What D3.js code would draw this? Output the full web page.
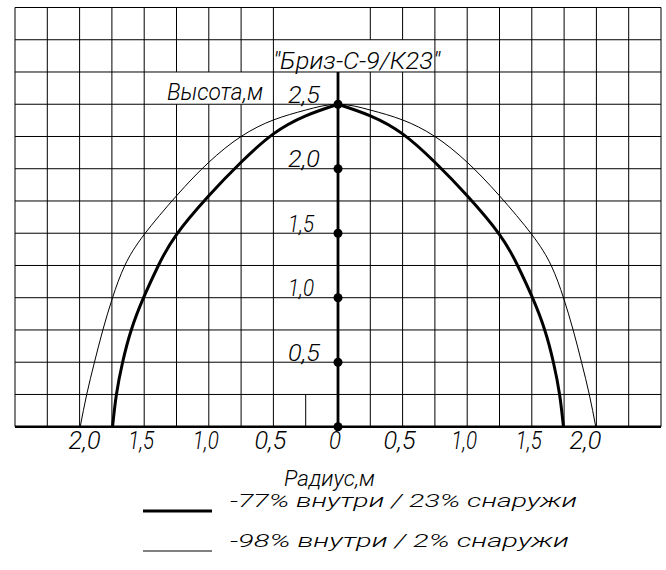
<!DOCTYPE html>
<html><head><meta charset="utf-8">
<script src="https://cdn.jsdelivr.net/npm/d3@7"></script>
<style>
body{margin:0;background:#fff}
svg{display:block;background:#fff}
text{font-family:Roboto,"Liberation Sans Narrow","Liberation Sans",sans-serif;font-style:italic;font-weight:300;fill:#000}
</style>
</head><body><svg id="c" width="666" height="570"></svg>
<script>
// ---- data ----
const title = '"Бриз-С-9/К23"';
const yAxisTitle = "Высота,м";
const xAxisTitle = "Радиус,м";
const yTicks = [0, 0.5, 1.0, 1.5, 2.0, 2.5];
const yTickLabels = ["", "0,5", "1,0", "1,5", "2,0", "2,5"];
const xTicks = [-2.0, -1.5, -1.0, -0.5, 0, 0.5, 1.0, 1.5, 2.0];
const xTickLabels = ["2,0", "1,5", "1,0", "0,5", "0", "0,5", "1,0", "1,5", "2,0"];
const seriesNames = ["-77% внутри / 23% снаружи", "-98% внутри / 2% снаружи"];
// throw profile: radius (m) vs height (m)
const profile77Radius = [0, 0.25, 0.5, 0.75, 1.0, 1.25, 1.39, 1.505, 1.6, 1.667, 1.715, 1.745];
const profile77Height = [2.5, 2.41, 2.27, 2.05, 1.79, 1.49, 1.25, 1.0, 0.75, 0.5, 0.25, 0];
const profile98Radius = [0, 0.25, 0.5, 0.75, 1.0, 1.25, 1.5, 1.65, 1.745, 1.82, 1.885, 1.945, 1.995];
const profile98Height = [2.5, 2.455, 2.378, 2.25, 2.05, 1.79, 1.49, 1.25, 1.0, 0.75, 0.5, 0.25, 0];

// ---- layout ----
const svg = d3.select("#c");
const x = d3.scaleLinear().domain([-2.5, 2.5]).range([15, 661]);
const y = d3.scaleLinear().domain([0, 3.25]).range([426.7, 7.5]);
const step = 0.25;

// grid: vertical lines with gaps where labels sit
const gaps = new Map([
  [-0.25, [[0.25, 3.25]]],
  [0, [[0, 3.25]]],
  [0.25, [[2.75, 3.0]]],
  [0.5, [[2.75, 3.0]]],
  [-1.25, [[2.5, 2.75]]],
  [-1.0, [[2.5, 2.75]]],
  [-0.75, [[2.5, 2.75]]]
]);
const grid = svg.append("g").attr("stroke", "#000").attr("stroke-width", 1);
d3.range(-2.5, 2.5001, step).forEach(v => {
  const k = Math.round(v * 100) / 100;
  const g = (gaps.get(k) || []).slice().sort((a, b) => a[0] - b[0]);
  let start = 0;
  const segs = [];
  g.forEach(([a, b]) => { if (a > start) segs.push([start, a]); start = Math.max(start, b); });
  if (start < 3.25) segs.push([start, 3.25]);
  segs.forEach(([a, b]) => grid.append("line")
    .attr("x1", x(k)).attr("x2", x(k)).attr("y1", y(a)).attr("y2", y(b)));
});
d3.range(step, 3.2501, step).forEach(v => {
  grid.append("line").attr("x1", x(-2.5)).attr("x2", x(2.5)).attr("y1", y(v)).attr("y2", y(v));
});

// axes lines
svg.append("line").attr("x1", x(-2.5)).attr("x2", x(2.5)).attr("y1", y(0)).attr("y2", y(0))
  .attr("stroke", "#000").attr("stroke-width", 2.6);
svg.append("line").attr("x1", x(0)).attr("x2", x(0)).attr("y1", y(0)).attr("y2", y(2.75))
  .attr("stroke", "#000").attr("stroke-width", 2.8);

// curves (smooth natural splines through the read points)
const line = d3.line().x(d => x(d[0])).y(d => y(d[1])).curve(d3.curveNatural);
const p77 = profile77Radius.map((r, i) => [r, profile77Height[i]]);
const p98 = profile98Radius.map((r, i) => [r, profile98Height[i]]);
// 77%: two halves meeting in a peak
svg.append("path").attr("d", line(p77))
  .attr("fill", "none").attr("stroke", "#000").attr("stroke-width", 3);
svg.append("path").attr("d", line(p77.map(d => [-d[0], d[1]])))
  .attr("fill", "none").attr("stroke", "#000").attr("stroke-width", 3);
// 98%: one smooth arch
const p98full = p98.slice(1).reverse().map(d => [-d[0], d[1]]).concat(p98);
svg.append("path").attr("d", line(p98full))
  .attr("fill", "none").attr("stroke", "#000").attr("stroke-width", 1);

// dots on height axis
svg.selectAll("circle.tick").data(yTicks).join("circle")
  .attr("cx", x(0)).attr("cy", d => y(d)).attr("r", 4.5).attr("fill", "#000");

const labelWidth = s => s.length === 1 ? 12 : (s.includes("1") ? 26 : 32);

// y tick labels
svg.selectAll("text.yl").data(yTicks.filter((d, i) => yTickLabels[i])).join("text")
  .attr("x", 288).attr("y", d => y(d) - 1.5)
  .attr("font-size", 24)
  .each(function (d) {
    const s = yTickLabels[yTicks.indexOf(d)];
    d3.select(this).attr("textLength", labelWidth(s)).attr("lengthAdjust", "spacingAndGlyphs").text(s);
  });

// x tick labels
svg.selectAll("text.xl").data(xTicks).join("text")
  .attr("x", d => x(d) + (Math.abs(d) === 2 ? -Math.sign(d) * 8 : 0) - 3)
  .attr("y", 449)
  .attr("text-anchor", "middle")
  .attr("font-size", 25)
  .each(function (d, i) {
    const s = xTickLabels[i];
    d3.select(this).attr("textLength", labelWidth(s)).attr("lengthAdjust", "spacingAndGlyphs").text(s);
  });

// titles
svg.append("text").attr("x", 273).attr("y", 69).attr("font-size", 23)
  .attr("textLength", 167).attr("lengthAdjust", "spacingAndGlyphs").text(title);
svg.append("text").attr("x", 167).attr("y", 100).attr("font-size", 24)
  .attr("textLength", 96).attr("lengthAdjust", "spacingAndGlyphs").text(yAxisTitle);
svg.append("text").attr("x", 284).attr("y", 485.5).attr("font-size", 22)
  .attr("textLength", 91).attr("lengthAdjust", "spacingAndGlyphs").text(xAxisTitle);

// legend
const legendY = [511, 551];
const legendW = [3, 1];
const legendLen = [347, 339];
seriesNames.forEach((name, i) => {
  svg.append("line").attr("x1", 143).attr("x2", 212).attr("y1", legendY[i]).attr("y2", legendY[i])
    .attr("stroke", "#000").attr("stroke-width", legendW[i]);
  svg.append("text").attr("x", 230).attr("y", legendY[i] - 4).attr("font-size", 18)
    .attr("textLength", legendLen[i]).attr("lengthAdjust", "spacingAndGlyphs").text(name);
});
</script>
</body></html>
